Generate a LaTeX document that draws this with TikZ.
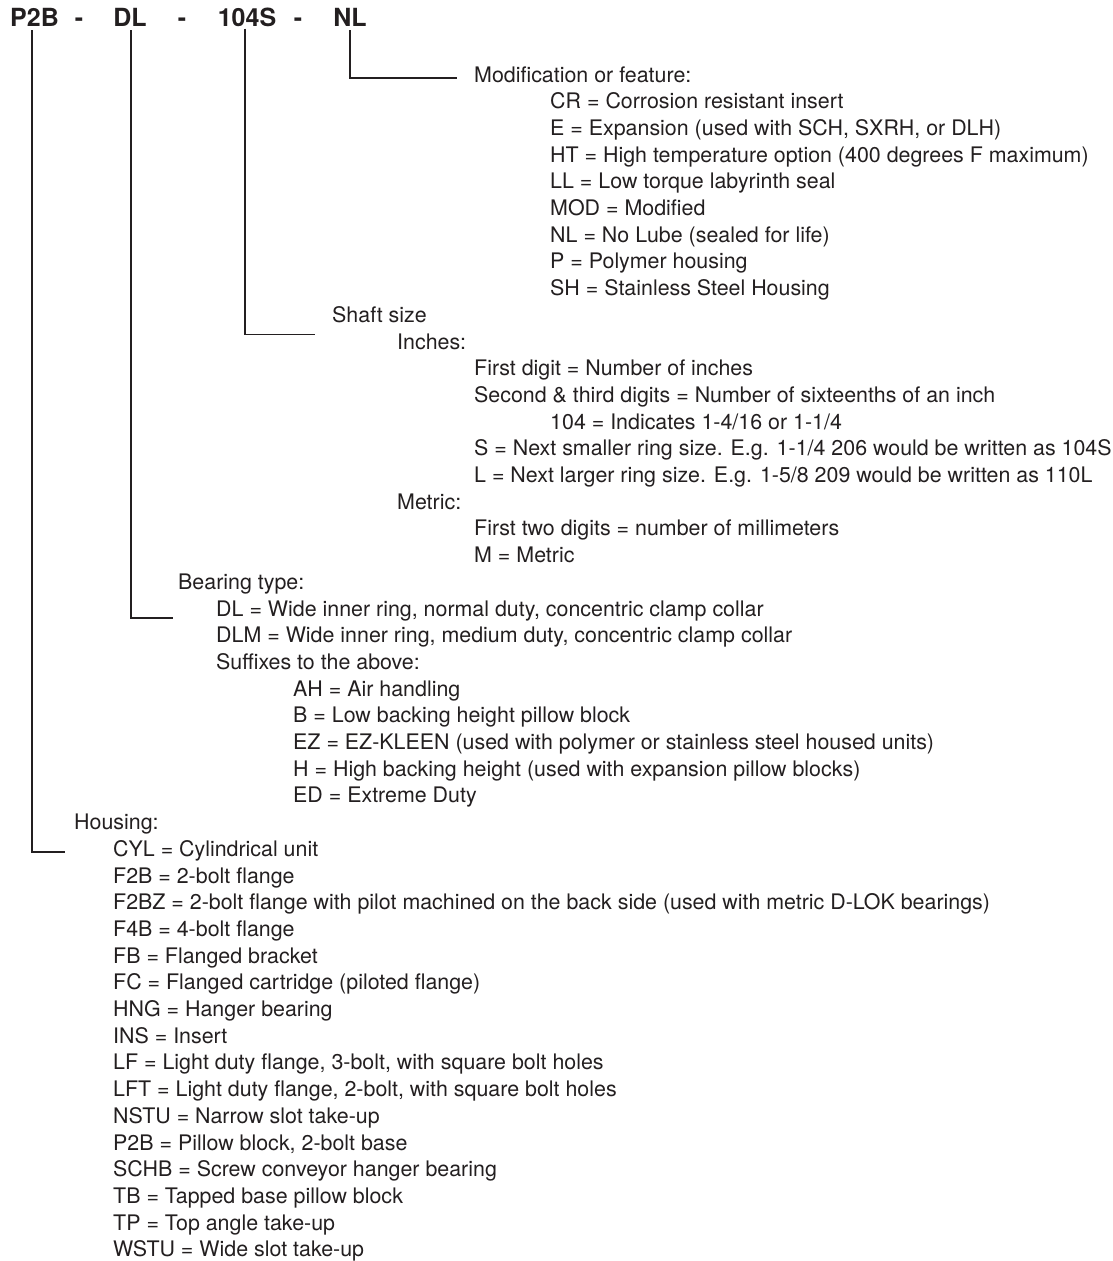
\documentclass[tikz,border=0pt]{standalone}
\usepackage{fontspec}
\setmainfont{TeX Gyre Heros}
\usetikzlibrary{positioning}

\definecolor{ink}{HTML}{231F20}

\tikzset{
  code/.style={font=\bfseries\fontsize{25}{25}\selectfont, inner sep=0pt, anchor=base},
  entry/.style={font=\fontsize{21.4}{25}\selectfont, inner sep=0pt, anchor=base west},
  leader/.style={line width=1.3pt}
}

\begin{document}
\begin{tikzpicture}[x=1pt,y=-1pt,color=ink]
\useasboundingbox (0,0) rectangle (1113,1261);

% part number
\node[code] (p2b) at (34.5,26.7) {P2B};
\node[code] (d1) at (79,26.7) {-};
\node[code] (dl) at (130,26.7) {DL};
\node[code] (d2) at (182,26.7) {-};
\node[code] (size) at (247,26.7) {104S};
\node[code] (d3) at (298,26.7) {-};
\node[code] (nl) at (350,26.7) {NL};

% modification
\node[entry] (mod) at (474,82.0) {Modification or feature:};
\node[entry] (cr) at (550,108.7) {CR = Corrosion resistant insert};
\node[entry] (exp) at (550,135.4) {E = Expansion (used with SCH, SXRH, or DLH)};
\node[entry] (ht) at (550,162.1) {HT = High temperature option (400 degrees F maximum)};
\node[entry] (ll) at (550,188.8) {LL = Low torque labyrinth seal};
\node[entry] (modif) at (550,215.5) {MOD = Modified};
\node[entry] (nolube) at (550,242.2) {NL = No Lube (sealed for life)};
\node[entry] (poly) at (550,268.9) {P = Polymer housing};
\node[entry] (sh) at (550,295.6) {SH = Stainless Steel Housing};

% shaft size
\node[entry] (shaft) at (332,322.3) {Shaft size};
\node[entry] (inch) at (397,349.0) {Inches:};
\node[entry] (first) at (474,375.7) {First digit = Number of inches};
\node[entry] (second) at (474,402.4) {Second \& third digits = Number of sixteenths of an inch};
\node[entry] (ind) at (550,429.1) {104 = Indicates 1-4/16 or 1-1/4};
\node[entry] (smaller) at (474,455.8) {S = Next smaller ring size. E.g. 1-1/4 206 would be written as 104S};
\node[entry] (larger) at (474,482.5) {L = Next larger ring size. E.g. 1-5/8 209 would be written as 110L};
\node[entry] (metric) at (397,509.2) {Metric:};
\node[entry] (twodig) at (474,535.9) {First two digits = number of millimeters};
\node[entry] (mmet) at (474,562.6) {M = Metric};

% bearing type
\node[entry] (bear) at (178,589.3) {Bearing type:};
\node[entry] (tdl) at (216,616.0) {DL = Wide inner ring, normal duty, concentric clamp collar};
\node[entry] (tdlm) at (216,642.7) {DLM = Wide inner ring, medium duty, concentric clamp collar};
\node[entry] (suff) at (216,669.4) {Suffixes to the above:};
\node[entry] (ah) at (293,696.1) {AH = Air handling};
\node[entry] (low) at (293,722.8) {B = Low backing height pillow block};
\node[entry] (ez) at (293,749.5) {EZ = EZ-KLEEN (used with polymer or stainless steel housed units)};
\node[entry] (high) at (293,776.2) {H = High backing height (used with expansion pillow blocks)};
\node[entry] (ed) at (293,802.9) {ED = Extreme Duty};

% housing
\node[entry] (hsg) at (74,829.6) {Housing:};
\node[entry] (cyl) at (113,856.3) {CYL = Cylindrical unit};
\node[entry] (ftwo) at (113,883.0) {F2B = 2-bolt flange};
\node[entry] (ftwoz) at (113,909.7) {F2BZ = 2-bolt flange with pilot machined on the back side (used with metric D-LOK bearings)};
\node[entry] (ffour) at (113,936.4) {F4B = 4-bolt flange};
\node[entry] (fb) at (113,963.1) {FB = Flanged bracket};
\node[entry] (fc) at (113,989.8) {FC = Flanged cartridge (piloted flange)};
\node[entry] (hng) at (113,1016.5) {HNG = Hanger bearing};
\node[entry] (ins) at (113,1043.2) {INS = Insert};
\node[entry] (lf) at (113,1069.9) {LF = Light duty flange, 3-bolt, with square bolt holes};
\node[entry] (lft) at (113,1096.6) {LFT = Light duty flange, 2-bolt, with square bolt holes};
\node[entry] (nstu) at (113,1123.3) {NSTU = Narrow slot take-up};
\node[entry] (pill) at (113,1150.0) {P2B = Pillow block, 2-bolt base};
\node[entry] (schb) at (113,1176.7) {SCHB = Screw conveyor hanger bearing};
\node[entry] (tb) at (113,1203.4) {TB = Tapped base pillow block};
\node[entry] (tp) at (113,1230.1) {TP = Top angle take-up};
\node[entry] (wstu) at (113,1256.8) {WSTU = Wide slot take-up};

% leaders
\coordinate (nlEnd) at (457,78);
\coordinate (sizeEnd) at (315,334.5);
\coordinate (dlEnd) at (173,618);
\coordinate (hsgEnd) at (65,852);

\draw[leader] ([yshift=-3.3pt]nl.south) |- (nlEnd);
\draw[leader] ([xshift=-2pt,yshift=-1.5pt]size.south) |- (sizeEnd);
\draw[leader] ([xshift=1pt,yshift=-3.3pt]dl.south) |- (dlEnd);
\draw[leader] ([xshift=-2.5pt,yshift=-3.3pt]p2b.south) |- (hsgEnd);

\end{tikzpicture}
\end{document}
